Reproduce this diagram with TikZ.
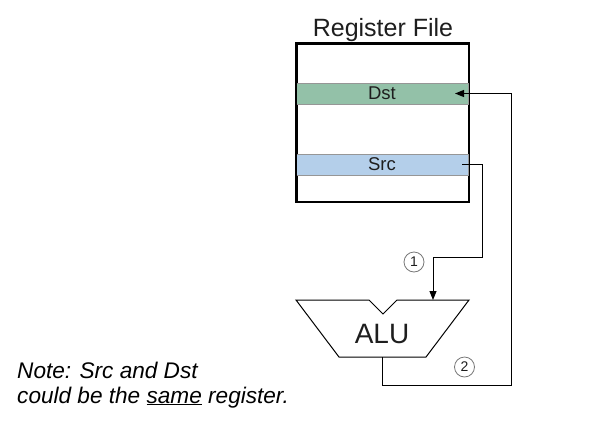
\documentclass[tikz,border=0pt]{standalone}
\usepackage{fontspec}
\setmainfont{Liberation Sans}
\usetikzlibrary{arrows.meta}
\definecolor{dstgreen}{RGB}{147,193,168}
\definecolor{srcblue}{RGB}{180,207,234}
\definecolor{bandline}{RGB}{150,150,150}
\definecolor{circgray}{RGB}{120,120,120}
\definecolor{textdark}{RGB}{30,30,30}
\begin{document}
\begin{tikzpicture}[x=1pt,y=-1pt,
  band/.style={draw=bandline,line width=1pt,minimum width=172pt,minimum height=21pt,inner sep=0pt,text=textdark,font=\fontsize{18.5}{20}\selectfont},
  wire/.style={line width=1pt,draw=black},
  arr/.style={-{Triangle[length=9pt,width=7pt]}},
  numcirc/.style={circle,draw=circgray,line width=0.8pt,minimum size=20pt,inner sep=0pt,font=\fontsize{14}{16}\selectfont,text=textdark},
  big/.style={font=\fontsize{25}{28}\selectfont,text=textdark}]
\useasboundingbox (0,0) rectangle (592,421);
% register file
\node[big,anchor=base] (title) at (383,36) {Register File};
\node[draw,line width=1.5pt,minimum width=172pt,minimum height=158pt,inner sep=0pt,anchor=north west] (rf) at (296,43) {};
\node[band,fill=dstgreen] (dst) at (382,93.5) {Dst};
\node[band,fill=srcblue] (src) at (382,164.5) {Src};
\draw[line width=1.5pt] (rf.north west) rectangle (rf.south east);
% ALU
\draw[line width=1pt,line join=miter] (296,300) coordinate (alutl) -- (369,300) -- (383,314) -- (397,300) -- (469,300) coordinate (alutr) -- (426,357) -- (339,357) -- cycle;
\node[big,font=\fontsize{28}{30}\selectfont,anchor=base] (alu) at (382,343) {ALU};
\coordinate (aluin) at (433,300);
\coordinate (aluout) at (382,357);
\coordinate (srcout) at (462,164.5);
\coordinate (dstin) at (455,93.5);
% connectors
\draw[wire,arr] (srcout) -- (482,164.5) -- (482,257) -- (433,257) -- (aluin);
\draw[wire,arr] (aluout) -- (382,385) -- (511,385) -- (511,93.5) -- (dstin);
\node[numcirc] (c1) at (414,262) {1};
\node[numcirc] (c2) at (464.5,367) {2};
% note
\node[anchor=base west,inner sep=0pt,text=black,font=\fontsize{22.6}{25}\selectfont\itshape] (note1) at (17,378) {Note: Src and Dst};
\node[anchor=base west,inner sep=0pt,text=black,font=\fontsize{22.6}{25}\selectfont\itshape] (note2) at (17,403) {could be the \underline{same} register.};
\end{tikzpicture}
\end{document}
